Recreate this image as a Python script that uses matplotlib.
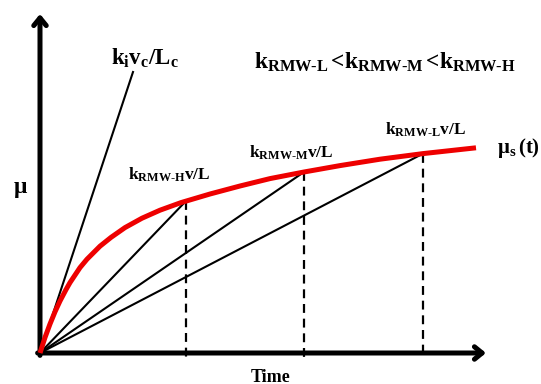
import matplotlib
matplotlib.use('Agg')
from matplotlib import pyplot as plt

# mathtext in bold Times-like serif everywhere
plt.rcParams['mathtext.fontset'] = 'custom'
plt.rcParams['mathtext.rm'] = 'Liberation Serif:bold'
plt.rcParams['mathtext.it'] = 'Liberation Serif:bold'
plt.rcParams['mathtext.bf'] = 'Liberation Serif:bold'
plt.rcParams['mathtext.default'] = 'bf'
plt.rcParams['font.family'] = ['Liberation Serif', 'DejaVu Serif']
plt.rcParams['font.weight'] = 'bold'

# Friction curve mu_s(t) (arbitrary units)
time = [0, 0.125, 0.25, 0.375, 0.5, 0.65, 0.75, 1.0, 1.175, 1.5, 1.775, 2.125,
        2.55, 3.0, 3.525, 4.25, 5.0, 5.75, 6.6, 7.5, 8.5, 9.575, 10.9]
mu_s = [0, 0.3875, 0.725, 1.03, 1.3, 1.585, 1.76, 2.135, 2.345, 2.67, 2.89, 3.135,
        3.37, 3.57, 3.76, 3.975, 4.175, 4.36, 4.525, 4.685, 4.845, 4.985, 5.13]

# points where the loading lines meet the curve (H, M, L)
t_hit = [3.65, 6.6, 9.575]
mu_hit = [3.8, 4.525, 4.985]
hit_labels = [r'$k_{RMW\text{-}H}v/L$', r'$k_{RMW\text{-}M}v/L$', r'$k_{RMW\text{-}L}v/L$']

# steep k_i v_c / L_c line end point
t_ki, mu_ki = 2.325, 7.025

fig = plt.figure(figsize=(5.41, 3.84), dpi=100)
ax = fig.add_axes([0, 0, 1, 1])
ax.set_xlim(-1.0, 12.525)
ax.set_ylim(-0.775, 8.825)
ax.axis('off')

# axes with arrows
arrow = dict(arrowstyle='->,head_length=0.55,head_width=0.45', lw=3.6,
             color='black', shrinkA=0, shrinkB=0)
ax.annotate('', xy=(11.15, 0), xytext=(-0.06, 0), arrowprops=arrow)
ax.annotate('', xy=(0, 8.475), xytext=(0, -0.06), arrowprops=arrow)

# loading lines from origin
ax.plot([0, t_ki], [0, mu_ki], color='black', lw=1.5)
for t, m in zip(t_hit, mu_hit):
    ax.plot([0, t], [0, m], color='black', lw=1.5)
    ax.plot([t, t], [m, -0.1], color='black', lw=1.6, ls=(0, (4, 2.6)))

# red curve
ax.plot(time, mu_s, color='#ee0000', lw=3.6, solid_capstyle='butt',
        solid_joinstyle='round', zorder=5)

# labels
ax.text(2.625, 7.375, r'$k_{i}v_{c}/L_{c}$', fontsize=16.5, ha='center', va='center')
ax.text(8.625, 7.275, r'$k_{RMW\text{-}L}\,\text{<}k_{RMW\text{-}M}\,\text{<}k_{RMW\text{-}H}$',
        fontsize=16.8, ha='center', va='center')
label_pos = [(3.225, 4.45), (6.275, 5.0), (9.65, 5.575)]
for (x, y), s in zip(label_pos, hit_labels):
    ax.text(x, y, s, fontsize=12.5, ha='center', va='center')
ax.text(-0.5, 4.125, 'μ', fontsize=17, fontweight='bold', ha='center', va='center')
ax.text(11.425, 5.125, r'$\mu_{s}\,$(t)', fontsize=15, fontweight='bold',
        ha='left', va='center')
ax.text(5.775, -0.6, 'Time', fontsize=13, fontweight='bold', ha='center', va='center')

plt.savefig('out.png', dpi=100)
